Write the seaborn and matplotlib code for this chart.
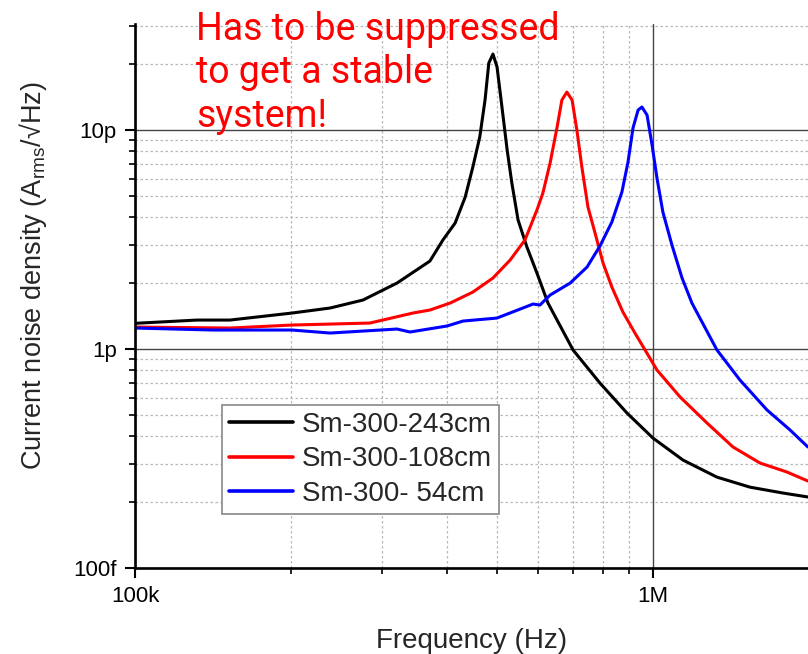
import numpy as np
import pandas as pd
import matplotlib
matplotlib.use("Agg")
import matplotlib.pyplot as plt
import matplotlib.ticker as mticker
import seaborn as sns

# ---------------- data ----------------
series_names = ["Sm-300-243cm", "Sm-300-108cm", "Sm-300- 54cm"]
series_colors = ["black", "red", "blue"]

f_243 = [100.0e3, 131.7e3, 152.5e3, 201e3, 238e3, 275.5e3, 320.5e3, 371e3, 393e3,
         415e3, 434e3, 449e3, 463e3, 474e3, 482e3, 491e3, 500e3, 511e3, 523e3,
         534e3, 549e3, 571e3, 597e3, 627e3, 701e3, 790e3, 891e3, 1.000e6,
         1.143e6, 1.329e6, 1.539e6, 1.782e6, 1.991e6]
n_243 = [1.31, 1.356, 1.356, 1.46, 1.539, 1.674, 2.001, 2.522, 3.146,
         3.761, 4.945, 6.779, 9.29, 13.71, 20.23, 22.23, 19.40, 12.74, 8.10,
         5.728, 3.882, 2.923, 2.223, 1.622, 0.990, 0.699, 0.510, 0.392,
         0.311, 0.260, 0.234, 0.220, 0.211]

f_108 = [100.0e3, 152.5e3, 201e3, 284e3, 344e3, 371e3, 406e3, 449e3, 491e3,
         530e3, 566e3, 597e3, 613e3, 633e3, 653e3, 667e3, 682e3, 698e3, 713e3,
         729e3, 749e3, 773e3, 801e3, 833e3, 875e3, 923e3, 1.018e6, 1.128e6,
         1.272e6, 1.427e6, 1.609e6, 1.814e6, 1.991e6]
n_108 = [1.26, 1.247, 1.287, 1.314, 1.46, 1.507, 1.622, 1.82, 2.11,
         2.549, 3.146, 4.312, 5.157, 7.07, 10.32, 13.71, 14.91, 13.71, 10.0,
         6.779, 4.45, 3.386, 2.47, 1.919, 1.475, 1.183, 0.802, 0.604,
         0.459, 0.357, 0.3016, 0.2744, 0.2496]

f_54 = [100.0e3, 141.5e3, 201e3, 238e3, 320.5e3, 339.6e3, 400.3e3, 429.8e3, 499.8e3,
        554e3, 587e3, 605e3, 633e3, 692e3, 746e3, 790e3, 833e3, 871e3, 895e3,
        915e3, 936e3, 952e3, 974e3, 996e3, 1.018e6, 1.045e6, 1.088e6, 1.138e6,
        1.189e6, 1.232e6, 1.329e6, 1.472e6, 1.660e6, 1.839e6, 1.991e6]
n_54 = [1.247, 1.221, 1.221, 1.183, 1.234, 1.196, 1.274, 1.342, 1.385,
        1.522, 1.605, 1.588, 1.764, 2.001, 2.368, 2.953, 3.802, 5.212, 7.144,
        10.21, 12.34, 12.74, 11.71, 8.543, 6.036, 4.222, 2.985, 2.110,
        1.622, 1.385, 0.990, 0.722, 0.527, 0.427, 0.357]

x_tick_values = [1e5, 1e6]
x_tick_labels = ["100k", "1M"]
y_tick_values = [1e-13, 1e-12, 1e-11]
y_tick_labels = ["100f", "1p", "10p"]

# ---------------- build table ----------------
frames = []
for name, f, n in zip(series_names, [f_243, f_108, f_54], [n_243, n_108, n_54]):
    frames.append(pd.DataFrame({"freq": f, "noise": np.array(n) * 1e-12, "series": name}))
df = pd.concat(frames, ignore_index=True)

# ---------------- style ----------------
sns.set_style("white")
plt.rcParams["font.family"] = ["Liberation Sans", "DejaVu Sans"]
plt.rcParams["mathtext.fontset"] = "custom"
plt.rcParams["mathtext.rm"] = "Liberation Sans"
plt.rcParams["mathtext.it"] = "Liberation Sans:italic"

fig = plt.figure(figsize=(8.08, 6.54), dpi=100)
ax = fig.add_axes([0.1671, 0.1315, 0.834, 0.8318])

sns.lineplot(data=df, x="freq", y="noise", hue="series", hue_order=series_names,
             palette=dict(zip(series_names, series_colors)), estimator=None,
             sort=False, linewidth=2.2, ax=ax, legend=True)

ax.set_xscale("log")
ax.set_yscale("log")
ax.set_xlim(1e5, 2e6)
ax.set_ylim(1e-13, 3.05e-11)

ax.set_xticks(x_tick_values)
ax.set_xticklabels(x_tick_labels)
ax.set_yticks(y_tick_values)
ax.set_yticklabels(y_tick_labels)
ax.xaxis.set_minor_locator(mticker.LogLocator(base=10, subs=np.arange(2, 10)))
ax.yaxis.set_minor_locator(mticker.LogLocator(base=10, subs=np.arange(2, 10)))
ax.xaxis.set_minor_formatter(mticker.NullFormatter())
ax.yaxis.set_minor_formatter(mticker.NullFormatter())

ax.tick_params(which="major", direction="out", length=7, width=1.5,
               labelsize=16, colors="black", pad=6, bottom=True, left=True)
ax.tick_params(which="minor", direction="out", length=4, width=1.2,
               colors="black", bottom=True, left=True)

ax.grid(which="major", color="#444444", linewidth=1.0, linestyle="-")
ax.grid(which="minor", color="#b8b8b8", linewidth=0.9, linestyle=(0, (2, 2)))
ax.set_axisbelow(True)

for side in ["top", "right"]:
    ax.spines[side].set_visible(False)
for side in ["left", "bottom"]:
    ax.spines[side].set_color("black")
    ax.spines[side].set_linewidth(1.9)

ax.set_xlabel("Frequency (Hz)", fontsize=20, labelpad=15)
ax.set_ylabel(r"Current noise density (A$_{\mathrm{rms}}$/√Hz)", fontsize=19.5)
ax.yaxis.set_label_coords(-0.128, 0.537)

leg = ax.legend(loc="upper left", bbox_to_anchor=(0.129, 0.2996), borderaxespad=0,
                fontsize=20, frameon=True, fancybox=False, edgecolor="#888888",
                framealpha=1, handlelength=2.3, handletextpad=0.32,
                borderpad=0.25, labelspacing=0.3)
leg.get_frame().set_linewidth(1.2)
for line in leg.get_lines():
    line.set_linewidth(2.6)

fig.text(196 / 808, 1 - 11 / 654, "Has to be suppressed\nto get a stable\nsystem!",
         color="red", fontsize=27, family=["Roboto", "DejaVu Sans"],
         ha="left", va="top", linespacing=1.22)

fig.savefig("out.png", dpi=100)
